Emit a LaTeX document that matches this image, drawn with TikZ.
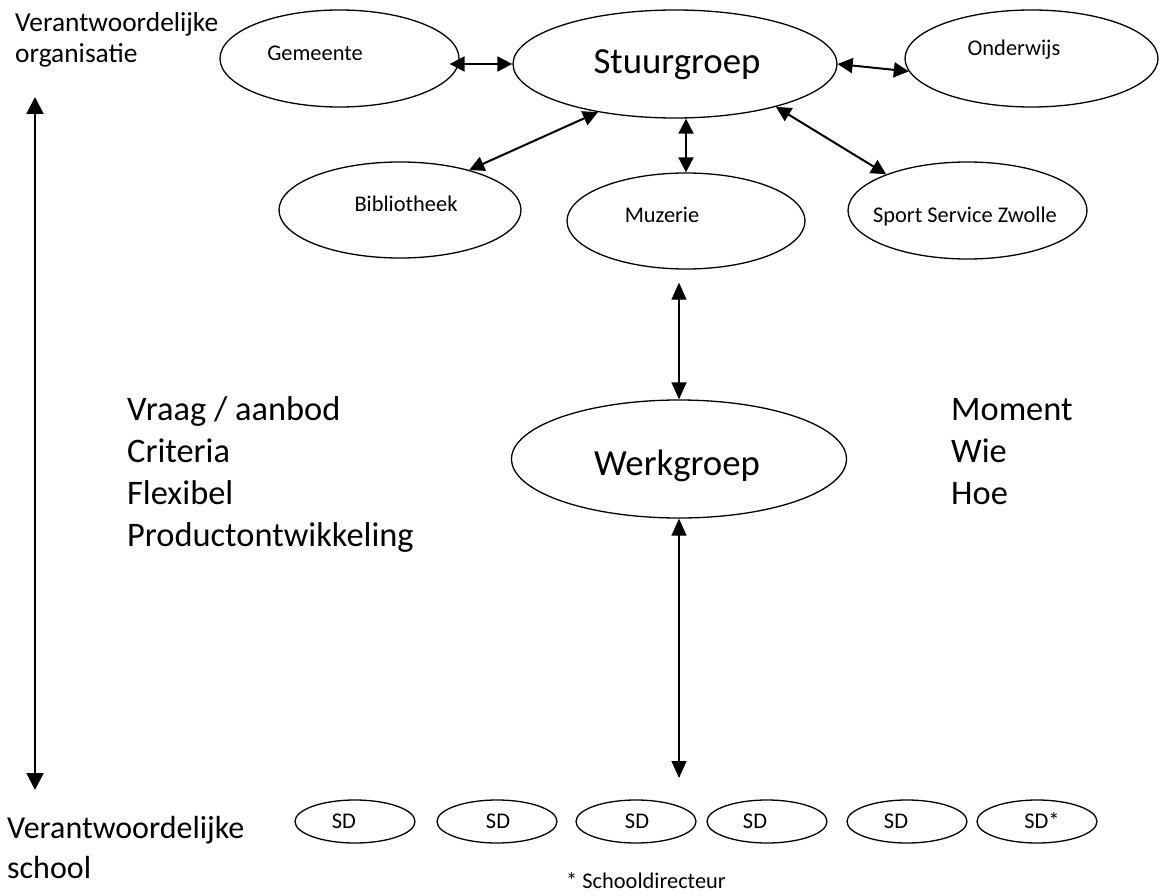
\documentclass[tikz,border=0pt]{standalone}
\usepackage{fontspec}
\setmainfont{Carlito}
\usetikzlibrary{arrows.meta}
\usetikzlibrary{shapes.geometric}

\begin{document}
\begin{tikzpicture}[x=1pt, y=-1pt,
	oval/.style		= {draw, ellipse, line width=1.3pt, inner sep=0pt},
	small/.style	= {inner sep=0pt, anchor=base, font=\fontsize{22.4}{27}\selectfont},
	big/.style		= {inner sep=0pt, anchor=base, font=\fontsize{36.8}{44}\selectfont},
	side/.style		= {inner sep=0pt, anchor=base west},
	link/.style		= {<->, >={Triangle[length=15pt,width=15pt]}, line width=2pt},
	thinlink/.style	= {<->, >={Triangle[length=17pt,width=15pt]}, line width=1.3pt},
	sidelink/.style	= {<->, >={Triangle[length=17pt,width=17pt]}, line width=2pt}]
	\useasboundingbox (0,0) rectangle (1162,896);

	% ellipses
	\node[oval, minimum width=239pt, minimum height=97pt]	(gemeente)		at (339.5,58.5)		{};
	\node[oval, minimum width=324pt, minimum height=108pt]	(stuurgroep)	at (675,64)			{};
	\node[oval, minimum width=253pt, minimum height=97pt]	(onderwijs)		at (1031.5,58.5)	{};
	\node[oval, minimum width=242pt, minimum height=96pt]	(bibliotheek)	at (400,210)		{};
	\node[oval, minimum width=238pt, minimum height=96pt]	(muzerie)		at (686,221)		{};
	\node[oval, minimum width=239pt, minimum height=97pt]	(sport)			at (967.5,210.5)	{};
	\node[oval, minimum width=335pt, minimum height=118pt]	(werkgroep)		at (679,459)		{};

	\node[small]	(gemeente-t)	at (315,61)		{Gemeente};
	\node[big]		(stuurgroep-t)	at (677,74)		{Stuurgroep};
	\node[small]	(onderwijs-t)	at (1014,56)	{Onderwijs};
	\node[small]	(bibliotheek-t)	at (406,212)	{Bibliotheek};
	\node[small]	(muzerie-t)		at (662,223)	{Muzerie};
	\node[small]	(sport-t)		at (965,223)	{Sport Service Zwolle};
	\node[big]		(werkgroep-t)	at (677,475)	{Werkgroep};

	% scholen
	\foreach \cx/\tx/\sd [count=\i] in {355/344/SD, 497/498/SD, 636/637/SD, 767/755/SD, 907/896/SD, 1037/1042/SD*} {
		\node[oval, minimum width=120pt, minimum height=43pt]	(sd\i)		at (\cx,821.5)	{};
		\node[small]											(sd\i-t)	at (\tx,828)	{\sd};
	}
	\node[small, anchor=base west]	(voetnoot)	at (566,888)	{* Schooldirecteur};

	% teksten links en rechts
	\node[side, font=\fontsize{27.4}{31}\selectfont]	(org1)		at (15,32)	{Verantwoordelijke};
	\node[side, font=\fontsize{27.4}{31}\selectfont]	(org2)		at (15,63)	{organisatie};
	\node[side, font=\fontsize{32}{38}\selectfont]		(school1)	at (7,838)	{Verantwoordelijke};
	\node[side, font=\fontsize{32}{38}\selectfont]		(school2)	at (7,878)	{school};

	\node[side, font=\fontsize{34.4}{42}\selectfont]	(vraag)		at (127,420)	{Vraag / aanbod};
	\node[side, font=\fontsize{34.4}{42}\selectfont]	(criteria)	at (127,462)	{Criteria};
	\node[side, font=\fontsize{34.4}{42}\selectfont]	(flexibel)	at (127,504)	{Flexibel};
	\node[side, font=\fontsize{34.4}{42}\selectfont]	(product)	at (127,546)	{Productontwikkeling};
	\node[side, font=\fontsize{34.4}{42}\selectfont]	(moment)	at (951,420)	{Moment};
	\node[side, font=\fontsize{34.4}{42}\selectfont]	(wie)		at (951,462)	{Wie};
	\node[side, font=\fontsize{34.4}{42}\selectfont]	(hoe)		at (951,504)	{Hoe};

	% pijlen
	\coordinate	(orgtop)	at (35,97);
	\coordinate	(schoolbot)	at (35,790);
	\coordinate	(muzbot)	at ([yshift=-13pt]muzerie.south);
	\coordinate	(sdtop)		at (679,778);

	\draw[link, shorten <=-10pt] (gemeente.east |- stuurgroep.west) -- (stuurgroep.west);
	\draw[link] (stuurgroep.east) -- (onderwijs.186);
	\draw[link] (bibliotheek.30) -- (stuurgroep.212);
	\draw[link] (muzerie.north) -- (muzerie.north |- stuurgroep.south);
	\draw[link] (stuurgroep.-23) -- (sport.156);
	\draw[thinlink] (werkgroep.north) -- (werkgroep.north |- muzbot);
	\draw[thinlink] (werkgroep.south) -- (sdtop);
	\draw[sidelink] (orgtop) -- (schoolbot);
\end{tikzpicture}
\end{document}
